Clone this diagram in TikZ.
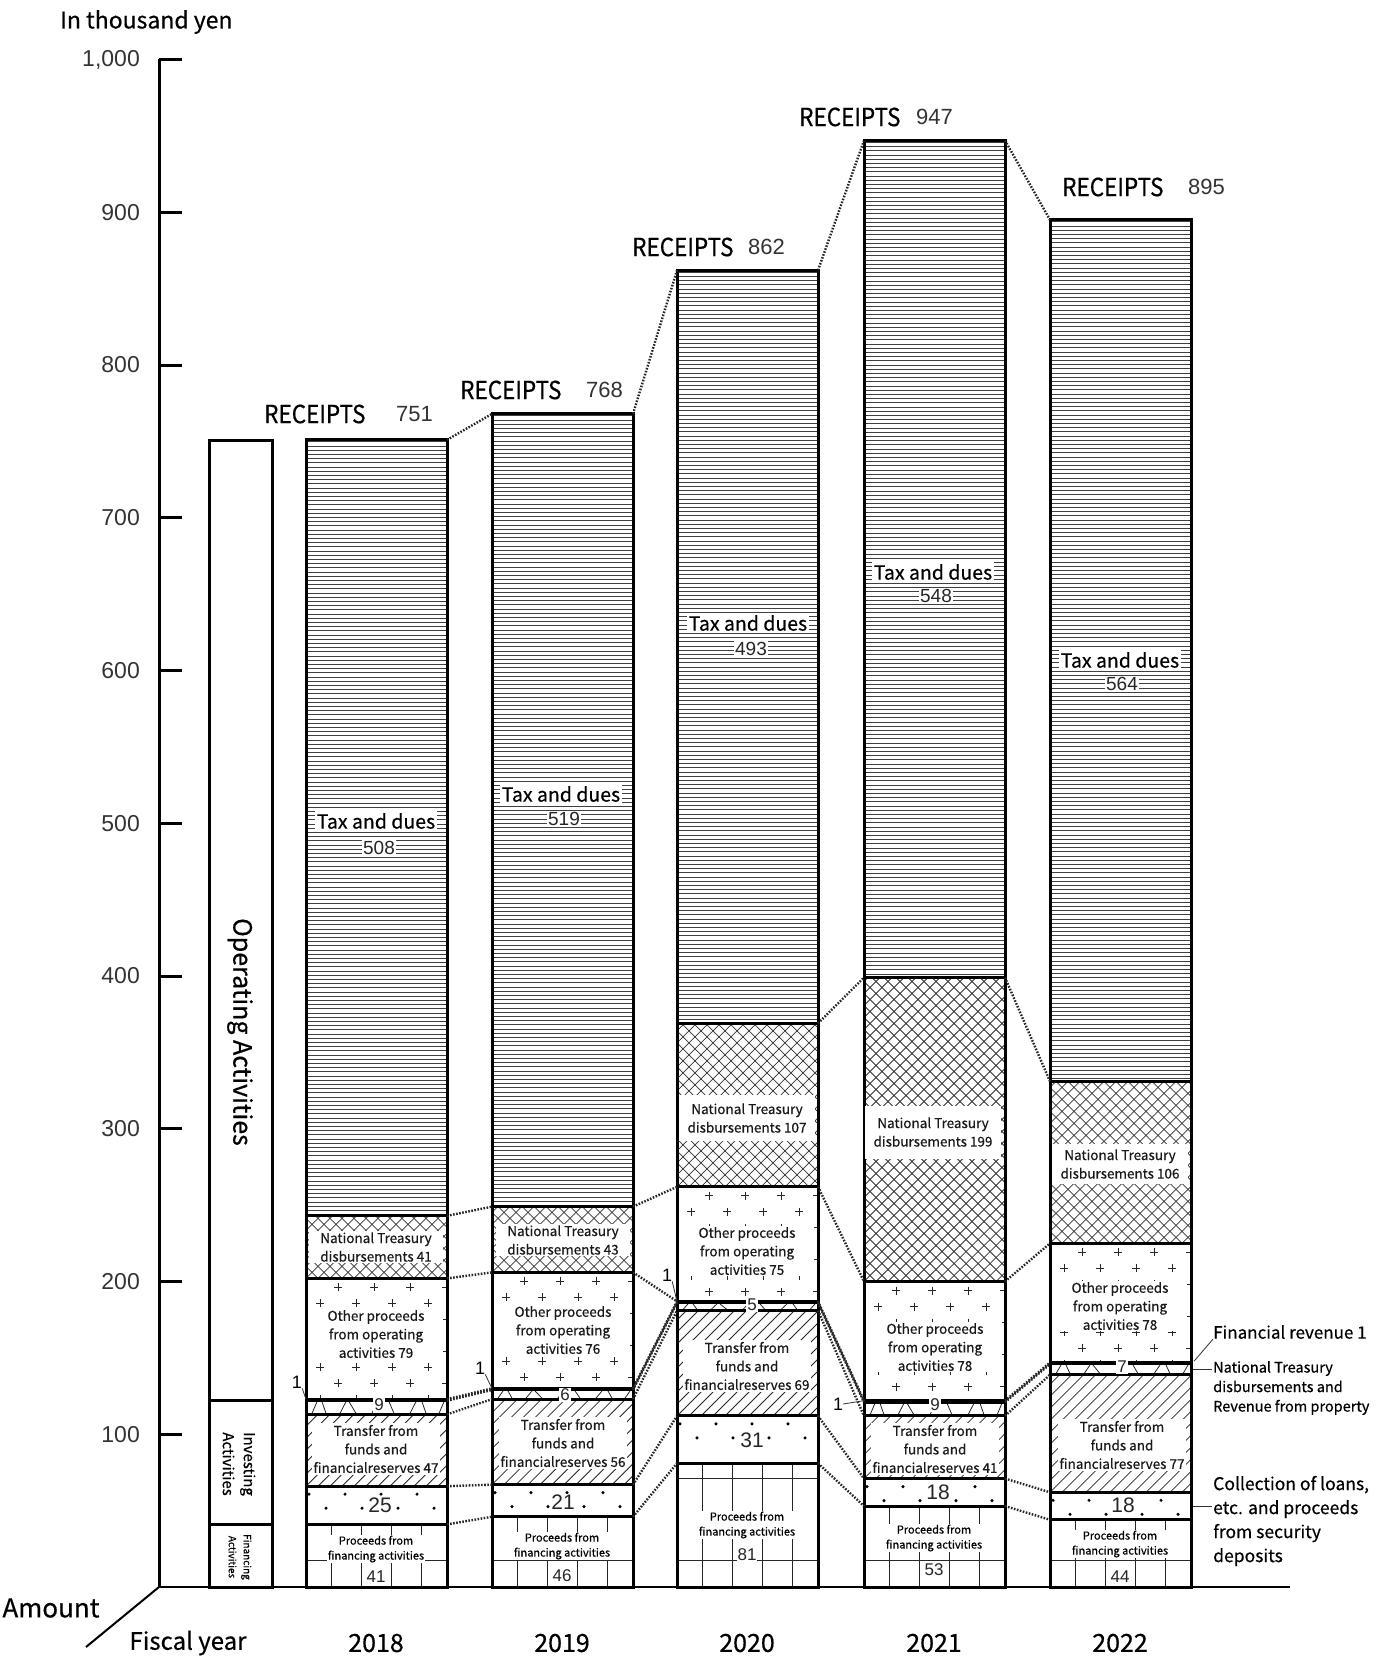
\documentclass[tikz,border=0pt]{standalone}
\usepackage{fontspec}
\setmainfont{Noto Sans CJK JP}[FakeBold=0.5]
\newfontfamily\arialf{Liberation Sans}
\usetikzlibrary{calc}
\newcommand\fsz[2]{\fontsize{#1}{#2}\selectfont}
\newcommand\rcpt{\scalebox{0.9}[1]{RECEIPTS}}
\begin{document}
\begin{tikzpicture}[x=1pt,y=-1pt,
  bord/.style={line width=3pt},
  conn/.style={line width=2.4pt, black!85, dash pattern=on 1.6pt off 1.5pt},
  thinl/.style={line width=0.8pt, black!85},
  xh/.style={line width=0.75pt, black!80},
  hl/.style={line width=1pt, black!75},
  lead/.style={line width=0.8pt, black!80},
  lab/.style={fill=white, inner sep=1.5pt, align=center, font={\fsz{13.5}{18.5}}, text=black!90, minimum width=134pt},
  ntw/.style={lab, minimum width=136pt, minimum height=46pt},
  trl/.style={lab, minimum width=128pt},
  taxl/.style={fill=white, inner sep=2pt, font={\fsz{19.5}{22}}},
  taxn/.style={fill=white, inner sep=1pt, font={\arialf\fsz{19}{22}}, text=black!85},
  smn/.style={fill=white, inner sep=1pt, font={\arialf\fsz{17}{18}}, text=black!85},
  dotn/.style={fill=white, inner sep=1pt, font={\arialf\fsz{21}{24}}, text=black!85},
  finl/.style={fill=white, inner sep=1pt, align=center, font={\fsz{11}{15}}},
  finn/.style={fill=white, inner sep=0.5pt, font={\arialf\fsz{17}{19}}, text=black!85},
  onel/.style={inner sep=0pt, font={\arialf\fsz{18}{20}}},
  tick/.style={font={\arialf\fsz{23}{25}}, text=black!80, anchor=east, inner sep=0pt},
  rec/.style={anchor=west, inner sep=0pt, font={\fsz{25}{28}}},
  recn/.style={anchor=west, inner sep=0pt, font={\arialf\fsz{22}{24}}, text=black!80},
  year/.style={font={\fsz{25}{28}}},
  note/.style={anchor=west, align=left, inner sep=0pt},
  ]
\useasboundingbox (0,0) rectangle (1379,1661);

% axes
\draw[line width=3pt] (159,59) -- (159,1587);
\foreach \v/\t in {100/100,200/200,300/300,400/400,500/500,600/600,700/700,800/800,900/900,1000/{1,000}}{
  \draw[line width=3pt] (159,{1587-1.5275*\v}) -- (182,{1587-1.5275*\v});
  \node[tick] (tk\v) at (140,{1587-1.5275*\v}) {\t};
}
\coordinate (base0) at (159,1587);
\coordinate (baseR) at (1290,1587);
\coordinate (diagE) at (86,1647);
\draw[line width=2.5pt] (base0) -- (baseR);
\draw[line width=2pt] (base0) -- (diagE);
\node[anchor=west, inner sep=0pt, font={\fsz{23}{26}}] (unit) at (60,22) {In thousand yen};
\node[font={\fsz{26}{28}}] (amount) at (51,1608) {Amount};
\node[font={\fsz{24}{28}}] (fiscal) at (188,1643) {Fiscal year};

% operating column
\draw[bord] (209,440) rectangle (272,1587);
\draw[bord] (209,1400) -- (272,1400);
\draw[bord] (209,1524) -- (272,1524);
\node[rotate=-90, font={\fsz{25}{28}}] (opact) at (240,1032) {Operating Activities};
\node[rotate=-90, align=center, font={\fsz{15}{21}}] (invact) at (239,1464) {Investing\\Activities};
\node[rotate=-90, align=center, font={\fsz{10}{15}}] (finact) at (240,1557) {Financing\\Activities};

% bars
\foreach \id/\xl/\qa/\qb/\qc/\qd/\qe/\qf/\qg/\qh in {a/306/41/66/113/122/123/202/243/751, b/492/46/67/123/129/130/206/249/768, c/677/81/112/181/186/187/262/369/862, d/864/53/71/112/121/122/200/399/947, e/1050/44/62/139/146/147/225/331/895}{
  \pgfmathsetmacro\xr{\xl+141}
  \pgfmathsetmacro\ya{1587-1.5275*\qa}
  \pgfmathsetmacro\yb{1587-1.5275*\qb}
  \pgfmathsetmacro\yc{1587-1.5275*\qc}
  \pgfmathsetmacro\yd{1587-1.5275*\qd}
  \pgfmathsetmacro\ye{1587-1.5275*\qe}
  \pgfmathsetmacro\yf{1587-1.5275*\qf}
  \pgfmathsetmacro\yg{1587-1.5275*\qg}
  \pgfmathsetmacro\yh{1587-1.5275*\qh}
  \pgfmathsetmacro\yde{(\yd+\ye)/2}
  % financing grid
  \begin{scope}
    \clip (\xl,\ya) rectangle (\xr,1587);
    \foreach \k in {0,...,3} \draw[thinl] ({\xl+25+30*\k},\ya) -- ({\xl+25+30*\k},1587);
    \foreach \yy in {1560,1478} \draw[thinl] (\xl,\yy) -- (\xr,\yy);
  \end{scope}
  % collection dots
  \begin{scope}
    \clip (\xl,\yb) rectangle (\xr,\ya);
    \foreach \k in {0,...,3} {
      \fill ({\xl+3+36*\k},{\yb+8}) circle[radius=1.7pt];
      \fill ({\xl+20+36*\k},{\yb+22}) circle[radius=1.7pt];
    }
  \end{scope}
  % transfer hatch
  \begin{scope}
    \clip (\xl,\yc) rectangle (\xr,\yb);
    \foreach \k in {-11,...,12} \draw[thinl] ({\xl+12*\k},\yb) -- ++(135,-135);
  \end{scope}
  % small segment strokes
  \begin{scope}
    \clip (\xl,\yd) rectangle (\xr,\yc);
    \foreach \xo/\dx in {6/5,20/-4,34/6,50/-7,66/5,88/-5,104/6,120/-4,133/5}
      \draw[thinl] ({\xl+\xo},{\yc-1}) -- ++(\dx,{\yd-\yc+2});
  \end{scope}
  % other proceeds plus marks
  \begin{scope}
    \clip (\xl,\yf) rectangle (\xr,\ye);
    \pgfmathtruncatemacro\np{(\ye-\yf)/16}
    \foreach \j in {0,...,\np} {
      \pgfmathsetmacro\off{14+18*mod(\j+1,2)}
      \foreach \k in {0,...,3}
        \draw[thinl] ({\xl+\off+36*\k-4},{\yf+9+16*\j}) -- ++(8,0)
                     ({\xl+\off+36*\k},{\yf+5+16*\j}) -- ++(0,8);
    }
  \end{scope}
  % national treasury crosshatch
  \begin{scope}
    \clip (\xl,\yg) rectangle (\xr,\yf);
    \foreach \k in {-26,...,12} \draw[xh] ({\xl+12*\k},\yf) -- ++(320,-320);
    \foreach \k in {0,...,38} \draw[xh] ({\xl+12*\k},\yf) -- ++(-320,-320);
  \end{scope}
  % tax horizontal lines
  \begin{scope}
    \clip (\xl,\yh) rectangle (\xr,\yg);
    \pgfmathtruncatemacro\nl{(\yg-\yh)/4.2}
    \foreach \t in {0,...,\nl} \draw[hl] (\xl,{\yh+2+4.2*\t}) -- (\xr,{\yh+2+4.2*\t});
  \end{scope}
  % boundaries
  \foreach \yy in {\ya,\yb,\yc,\yf,\yg} \draw[bord] (\xl,\yy) -- (\xr,\yy);
  \draw[line width=4.5pt] (\xl,\yde) -- (\xr,\yde);
  \draw[bord] (\xl,\yh) rectangle (\xr,1587);
  \foreach \nn/\yy in {1/\ya,2/\yb,3/\yc,4/\yd,5/\ye,6/\yf,7/\yg,8/\yh} {
    \coordinate (\id\nn-L) at (\xl,\yy);
    \coordinate (\id\nn-R) at (\xr,\yy);
  }
}

% connectors between bars
\foreach \p/\q/\k/\m in {a/b/1/1,a/b/2/2,a/b/3/3,a/b/4/4,a/b/5/5,a/b/6/6,a/b/7/7,a/b/8/8,
  b/c/1/1,b/c/2/2,b/c/3/3,b/c/4/4,b/c/5/5,b/c/6/5,b/c/7/6,b/c/8/8,
  c/d/1/1,c/d/2/2,c/d/3/3,c/d/4/4,c/d/5/5,c/d/6/6,c/d/7/7,c/d/8/8,
  d/e/1/1,d/e/2/2,d/e/3/3,d/e/4/4,d/e/5/5,d/e/6/6,d/e/7/7,d/e/8/8}
  \draw[conn] (\p\k-R) -- (\q\m-L);

% ---- labels 2018
\node[rec] (ra) at (264,414) {\rcpt};
\node[recn] (rna) at (396,414) {751};
\node[taxl] (taxa) at (376,821) {Tax and dues};
\node[taxn] (taxna) at (379,848) {508};
\node[lab] (nta) at (376,1247) {National Treasury\\disbursements 41};
\node[lab] (opa) at (376,1334) {Other proceeds\\from operating\\activities 79};
\node[smn] (sma) at (379,1405) {9};
\node[trl] (tra) at (376,1449) {Transfer from\\funds and\\financialreserves 47};
\node[dotn] (cla) at (380,1505) {25};
\node[finl] (fia) at (376,1549) {Proceeds from\\financing activities};
\node[finn] (fna) at (376,1577) {41};
\node[onel] (onea) at (297,1382) {1};
\draw[lead] (onea.south east) -- (a5-L);
\node[year] (ya) at (376,1643) {2018};

% ---- labels 2019
\node[rec] (rb) at (460,390) {\rcpt};
\node[recn] (rnb) at (586,390) {768};
\node[taxl] (taxb) at (561,794) {Tax and dues};
\node[taxn] (taxnb) at (564,819) {519};
\node[lab] (ntb) at (563,1240) {National Treasury\\disbursements 43};
\node[lab] (opb) at (563,1330) {Other proceeds\\from operating\\activities 76};
\node[smn] (smb) at (565,1395) {6};
\node[trl] (trb) at (563,1443) {Transfer from\\funds and\\financialreserves 56};
\node[dotn] (clb) at (563,1502) {21};
\node[finl] (fib) at (562,1546) {Proceeds from\\financing activities};
\node[finn] (fnb) at (562,1576) {46};
\node[onel] (oneb) at (480,1368) {1};
\draw[lead] (oneb.south east) -- (b5-L);
\node[year] (yb) at (562,1643) {2019};

% ---- labels 2020
\node[rec] (rc) at (632,247) {\rcpt};
\node[recn] (rnc) at (748,247) {862};
\node[taxl] (taxc) at (748,623) {Tax and dues};
\node[taxn] (taxnc) at (751,649) {493};
\node[ntw] (ntc) at (747,1118) {National Treasury\\disbursements 107};
\node[lab] (opc) at (747,1251) {Other proceeds\\from operating\\activities 75};
\node[smn] (smc) at (752,1305) {5};
\node[trl] (trc) at (747,1366) {Transfer from\\funds and\\financialreserves 69};
\node[dotn] (clc) at (752,1440) {31};
\node[finl] (fic) at (747,1525) {Proceeds from\\financing activities};
\node[finn] (fnc) at (747,1555) {81};
\node[onel] (onec) at (667,1275) {1};
\draw[lead] (onec.south east) -- (c5-L);
\node[year] (yc) at (747,1643) {2020};

% ---- labels 2021
\node[rec] (rd) at (799,117) {\rcpt};
\node[recn] (rnd) at (916,117) {947};
\node[taxl] (taxd) at (933,572) {Tax and dues};
\node[taxn] (taxnd) at (936,596) {548};
\node[ntw, minimum height=53pt] (ntd) at (933,1132) {National Treasury\\disbursements 199};
\node[lab] (opd) at (935,1347) {Other proceeds\\from operating\\activities 78};
\node[smn] (smd) at (935,1405) {9};
\node[trl] (trd) at (935,1449) {Transfer from\\funds and\\financialreserves 41};
\node[dotn] (cld) at (938,1492) {18};
\node[finl] (fid) at (934,1538) {Proceeds from\\financing activities};
\node[finn] (fnd) at (934,1570) {53};
\node[onel] (oned) at (838,1404) {1};
\draw[lead] (oned.east) -- (d5-L);
\node[year] (yd) at (934,1643) {2021};

% ---- labels 2022
\node[rec] (re) at (1062,187) {\rcpt};
\node[recn] (rne) at (1188,187) {895};
\node[taxl] (taxe) at (1120,660) {Tax and dues};
\node[taxn] (taxne) at (1122,684) {564};
\node[ntw, minimum height=40pt] (nte) at (1120,1164) {National Treasury\\disbursements 106};
\node[lab] (ope) at (1120,1306) {Other proceeds\\from operating\\activities 78};
\node[smn] (sme) at (1122,1367) {7};
\node[trl] (tre) at (1122,1445) {Transfer from\\funds and\\financialreserves 77};
\node[dotn] (cle) at (1123,1505) {18};
\node[finl] (fie) at (1120,1544) {Proceeds from\\financing activities};
\node[finn] (fne) at (1120,1577) {44};
\node[year] (ye) at (1120,1643) {2022};

% ---- right notes
\node[note, font={\fsz{17}{20}}] (finrev) at (1213,1332) {Financial revenue 1};
\node[note, font={\fsz{14.5}{19.5}}] (ntrev) at (1213,1388) {National Treasury\\disbursements and\\Revenue from property};
\node[note, font={\fsz{17.5}{24}}] (coll) at (1213,1521) {Collection of loans,\\etc. and proceeds\\from security\\deposits};
\coordinate (e45) at ($(e4-R)!0.5!(e5-R)+(3,-2)$);
\coordinate (e34) at ($(e3-R)!0.5!(e4-R)+(2,0)$);
\coordinate (e12) at ($(e1-R)!0.5!(e2-R)+(2,0)$);
\coordinate (ntrevL) at ($(e34)+(19,0)$);
\coordinate (collL) at ($(e12)+(19,0)$);
\draw[lead] (e45) -- (finrev.south west);
\draw[lead] (e34) -- (ntrevL);
\draw[lead] (e12) -- (collL);
\end{tikzpicture}
\end{document}
